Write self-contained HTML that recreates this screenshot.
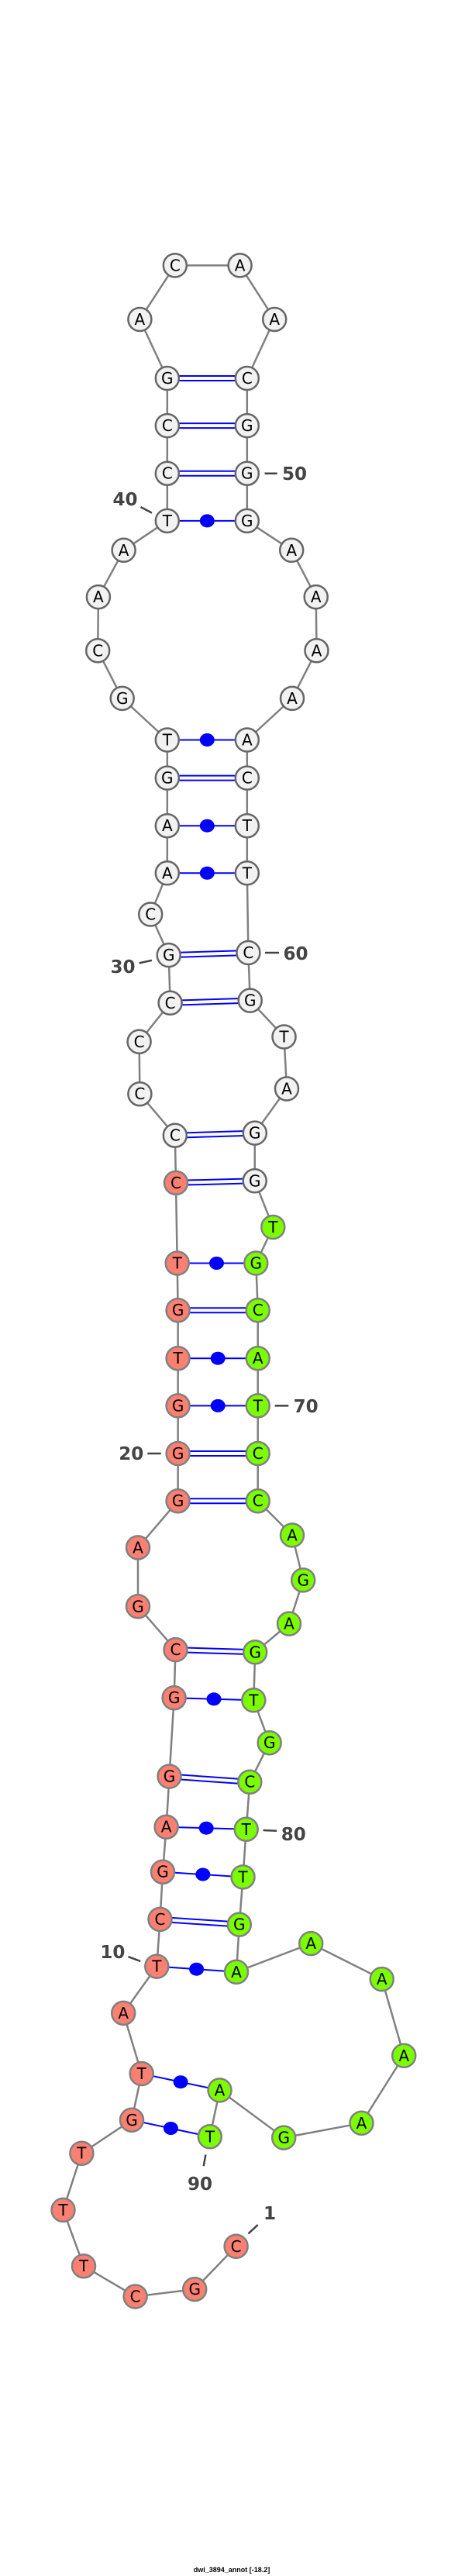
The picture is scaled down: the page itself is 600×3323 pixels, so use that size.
<!DOCTYPE html>
<html><head><meta charset="utf-8"><style>
html,body{margin:0;padding:0;background:#fff;}
svg{display:block;}
.n text{font-family:"DejaVu Sans","Liberation Sans",sans-serif;font-size:20px;text-anchor:middle;fill:#000;}
.lb{font-family:"DejaVu Sans","Liberation Sans",sans-serif;font-size:23px;font-weight:bold;fill:#444;text-anchor:middle;}
</style></head><body>
<svg width="600" height="3323" viewBox="0 0 600 3323" xmlns="http://www.w3.org/2000/svg">
<polyline fill="none" stroke="#808080" stroke-width="2.5" points="304.6,2897.8 251.2,2953.1 174.6,2962.5 108,2923.2 81.5,2850.9 105.4,2777.7 170,2734.8 182.7,2675 159.2,2596.9 202.3,2536.6 206.5,2475.9 210,2414.7 214.6,2356.7 218.5,2291.5 224.6,2190.2 226.5,2128.1 178,2072.3 178,1996.4 229.6,1936.2 229.6,1875 229.6,1813.4 229.6,1752.2 229.6,1690.2 228.7,1629.5 227,1525.9 225.8,1464.7 180.4,1411.2 179.6,1343.8 219.6,1293.8 217.7,1232.1 194.2,1179.5 215.8,1126.3 215.8,1065.2 215.8,1003.6 215.8,954.5 157.7,900.9 126.2,839.3 126.9,770.1 159.6,709.8 215.8,671.9 215.8,610.7 215.8,549.1 215.8,488 180.4,412 225.8,342.4 309.6,342.4 354.2,412 318.8,488 318.8,549.1 318.8,610.7 318.8,671.9 376.2,709.8 407.7,770.1 408.5,839.3 377,900.9 318.8,954.5 318.8,1003.6 318.8,1065.2 318.8,1126.3 320.4,1229 322.7,1290.6 366.5,1337.5 370,1404.5 328.8,1461.6 328.7,1523.3 352.3,1583 330.3,1629.5 332.7,1690.2 332.7,1752.2 332.7,1813.4 332.7,1875 332.7,1936.2 377,1980.4 391.2,2038.4 373,2094.6 329.2,2131.3 327.3,2193.3 347.7,2248.2 322.3,2298.7 317.7,2359.8 313.5,2421.4 308.8,2482.6 305,2543.8 401.2,2507.1 492.7,2553.1 521.2,2651.8 466.5,2738.8 366.2,2757.6 283.5,2696.4 270.8,2756.3"/>
<g stroke="#0000ff" stroke-width="2">
<!-- double pairs -->
<line x1="215.8" y1="485" x2="318.8" y2="485"/><line x1="215.8" y1="491" x2="318.8" y2="491"/>
<line x1="215.8" y1="546.1" x2="318.8" y2="546.1"/><line x1="215.8" y1="552.1" x2="318.8" y2="552.1"/>
<line x1="215.8" y1="607.7" x2="318.8" y2="607.7"/><line x1="215.8" y1="613.7" x2="318.8" y2="613.7"/>
<line x1="215.8" y1="1000.6" x2="318.8" y2="1000.6"/><line x1="215.8" y1="1006.6" x2="318.8" y2="1006.6"/>
<line x1="217.7" y1="1229.1" x2="320.4" y2="1226"/><line x1="217.7" y1="1235.1" x2="320.4" y2="1232"/>
<line x1="219.6" y1="1290.8" x2="322.7" y2="1287.6"/><line x1="219.6" y1="1296.8" x2="322.7" y2="1293.6"/>
<line x1="225.8" y1="1461.7" x2="328.8" y2="1458.6"/><line x1="225.8" y1="1467.7" x2="328.8" y2="1464.6"/>
<line x1="227" y1="1522.9" x2="328.7" y2="1520.3"/><line x1="227" y1="1528.9" x2="328.7" y2="1526.3"/>
<line x1="229.6" y1="1687.2" x2="332.7" y2="1687.2"/><line x1="229.6" y1="1693.2" x2="332.7" y2="1693.2"/>
<line x1="229.6" y1="1872" x2="332.7" y2="1872"/><line x1="229.6" y1="1878" x2="332.7" y2="1878"/>
<line x1="229.6" y1="1933.2" x2="332.7" y2="1933.2"/><line x1="229.6" y1="1939.2" x2="332.7" y2="1939.2"/>
<line x1="226.5" y1="2125.1" x2="329.2" y2="2128.3"/><line x1="226.5" y1="2131.1" x2="329.2" y2="2134.3"/>
<line x1="218.5" y1="2288.5" x2="322.3" y2="2295.7"/><line x1="218.5" y1="2294.5" x2="322.3" y2="2301.7"/>
<line x1="206.5" y1="2472.9" x2="308.8" y2="2479.6"/><line x1="206.5" y1="2478.9" x2="308.8" y2="2485.6"/>
<!-- dot pairs -->
<line x1="215.8" y1="671.9" x2="318.8" y2="671.9"/>
<line x1="215.8" y1="954.5" x2="318.8" y2="954.5"/>
<line x1="215.8" y1="1065.2" x2="318.8" y2="1065.2"/>
<line x1="215.8" y1="1126.3" x2="318.8" y2="1126.3"/>
<line x1="228.7" y1="1629.5" x2="330.3" y2="1629.5"/>
<line x1="229.6" y1="1752.2" x2="332.7" y2="1752.2"/>
<line x1="229.6" y1="1813.4" x2="332.7" y2="1813.4"/>
<line x1="224.6" y1="2190.2" x2="327.3" y2="2193.3"/>
<line x1="214.6" y1="2356.7" x2="317.7" y2="2359.8"/>
<line x1="210" y1="2414.7" x2="313.5" y2="2421.4"/>
<line x1="202.3" y1="2536.6" x2="305" y2="2543.8"/>
<line x1="182.7" y1="2675" x2="283.5" y2="2696.4"/>
<line x1="170" y1="2734.8" x2="270.8" y2="2756.3"/>
</g>
<g fill="#0000ff">
<ellipse cx="267.3" cy="671.9" rx="9.5" ry="8.5"/>
<ellipse cx="267.3" cy="954.5" rx="9.5" ry="8.5"/>
<ellipse cx="267.3" cy="1065.2" rx="9.5" ry="8.5"/>
<ellipse cx="267.3" cy="1126.3" rx="9.5" ry="8.5"/>
<ellipse cx="279.5" cy="1629.5" rx="9.5" ry="8.5"/>
<ellipse cx="281.2" cy="1752.2" rx="9.5" ry="8.5"/>
<ellipse cx="281.2" cy="1813.4" rx="9.5" ry="8.5"/>
<ellipse cx="276" cy="2191.8" rx="9.5" ry="8.5"/>
<ellipse cx="266.2" cy="2358.2" rx="9.5" ry="8.5"/>
<ellipse cx="261.8" cy="2418" rx="9.5" ry="8.5"/>
<ellipse cx="253.6" cy="2540.2" rx="9.5" ry="8.5"/>
<ellipse cx="233.1" cy="2685.7" rx="9.5" ry="8.5"/>
<ellipse cx="220.4" cy="2745.5" rx="9.5" ry="8.5"/>
</g>
<g class="n" stroke-width="2.5">
<g fill="#fa8072" stroke="#808080">
<circle cx="304.6" cy="2897.8" r="15"/><circle cx="251.2" cy="2953.1" r="15"/><circle cx="174.6" cy="2962.5" r="15"/><circle cx="108" cy="2923.2" r="15"/><circle cx="81.5" cy="2850.9" r="15"/><circle cx="105.4" cy="2777.7" r="15"/><circle cx="170" cy="2734.8" r="15"/><circle cx="182.7" cy="2675" r="15"/><circle cx="159.2" cy="2596.9" r="15"/><circle cx="202.3" cy="2536.6" r="15"/><circle cx="206.5" cy="2475.9" r="15"/><circle cx="210" cy="2414.7" r="15"/><circle cx="214.6" cy="2356.7" r="15"/><circle cx="218.5" cy="2291.5" r="15"/><circle cx="224.6" cy="2190.2" r="15"/><circle cx="226.5" cy="2128.1" r="15"/><circle cx="178" cy="2072.3" r="15"/><circle cx="178" cy="1996.4" r="15"/><circle cx="229.6" cy="1936.2" r="15"/><circle cx="229.6" cy="1875" r="15"/><circle cx="229.6" cy="1813.4" r="15"/><circle cx="229.6" cy="1752.2" r="15"/><circle cx="229.6" cy="1690.2" r="15"/><circle cx="228.7" cy="1629.5" r="15"/><circle cx="227" cy="1525.9" r="15"/>
</g>
<g fill="#f2f2f2" stroke="#666">
<circle cx="225.8" cy="1464.7" r="15"/><circle cx="180.4" cy="1411.2" r="15"/><circle cx="179.6" cy="1343.8" r="15"/><circle cx="219.6" cy="1293.8" r="15"/><circle cx="217.7" cy="1232.1" r="15"/><circle cx="194.2" cy="1179.5" r="15"/><circle cx="215.8" cy="1126.3" r="15"/><circle cx="215.8" cy="1065.2" r="15"/><circle cx="215.8" cy="1003.6" r="15"/><circle cx="215.8" cy="954.5" r="15"/><circle cx="157.7" cy="900.9" r="15"/><circle cx="126.2" cy="839.3" r="15"/><circle cx="126.9" cy="770.1" r="15"/><circle cx="159.6" cy="709.8" r="15"/><circle cx="215.8" cy="671.9" r="15"/><circle cx="215.8" cy="610.7" r="15"/><circle cx="215.8" cy="549.1" r="15"/><circle cx="215.8" cy="488" r="15"/><circle cx="180.4" cy="412" r="15"/><circle cx="225.8" cy="342.4" r="15"/><circle cx="309.6" cy="342.4" r="15"/><circle cx="354.2" cy="412" r="15"/><circle cx="318.8" cy="488" r="15"/><circle cx="318.8" cy="549.1" r="15"/><circle cx="318.8" cy="610.7" r="15"/><circle cx="318.8" cy="671.9" r="15"/><circle cx="376.2" cy="709.8" r="15"/><circle cx="407.7" cy="770.1" r="15"/><circle cx="408.5" cy="839.3" r="15"/><circle cx="377" cy="900.9" r="15"/><circle cx="318.8" cy="954.5" r="15"/><circle cx="318.8" cy="1003.6" r="15"/><circle cx="318.8" cy="1065.2" r="15"/><circle cx="318.8" cy="1126.3" r="15"/><circle cx="320.4" cy="1229" r="15"/><circle cx="322.7" cy="1290.6" r="15"/><circle cx="366.5" cy="1337.5" r="15"/><circle cx="370" cy="1404.5" r="15"/><circle cx="328.8" cy="1461.6" r="15"/><circle cx="328.7" cy="1523.3" r="15"/>
</g>
<g fill="#7cfc00" stroke="#808080">
<circle cx="352.3" cy="1583" r="15"/><circle cx="330.3" cy="1629.5" r="15"/><circle cx="332.7" cy="1690.2" r="15"/><circle cx="332.7" cy="1752.2" r="15"/><circle cx="332.7" cy="1813.4" r="15"/><circle cx="332.7" cy="1875" r="15"/><circle cx="332.7" cy="1936.2" r="15"/><circle cx="377" cy="1980.4" r="15"/><circle cx="391.2" cy="2038.4" r="15"/><circle cx="373" cy="2094.6" r="15"/><circle cx="329.2" cy="2131.3" r="15"/><circle cx="327.3" cy="2193.3" r="15"/><circle cx="347.7" cy="2248.2" r="15"/><circle cx="322.3" cy="2298.7" r="15"/><circle cx="317.7" cy="2359.8" r="15"/><circle cx="313.5" cy="2421.4" r="15"/><circle cx="308.8" cy="2482.6" r="15"/><circle cx="305" cy="2543.8" r="15"/><circle cx="401.2" cy="2507.1" r="15"/><circle cx="492.7" cy="2553.1" r="15"/><circle cx="521.2" cy="2651.8" r="15"/><circle cx="466.5" cy="2738.8" r="15"/><circle cx="366.2" cy="2757.6" r="15"/><circle cx="283.5" cy="2696.4" r="15"/><circle cx="270.8" cy="2756.3" r="15"/>
</g>
<g transform="translate(0,7)">
<text x="304.6" y="2897.8">C</text><text x="251.2" y="2953.1">G</text><text x="174.6" y="2962.5">C</text><text x="108" y="2923.2">T</text><text x="81.5" y="2850.9">T</text><text x="105.4" y="2777.7">T</text><text x="170" y="2734.8">G</text><text x="182.7" y="2675">T</text><text x="159.2" y="2596.9">A</text><text x="202.3" y="2536.6">T</text><text x="206.5" y="2475.9">C</text><text x="210" y="2414.7">G</text><text x="214.6" y="2356.7">A</text><text x="218.5" y="2291.5">G</text><text x="224.6" y="2190.2">G</text><text x="226.5" y="2128.1">C</text><text x="178" y="2072.3">G</text><text x="178" y="1996.4">A</text><text x="229.6" y="1936.2">G</text><text x="229.6" y="1875">G</text><text x="229.6" y="1813.4">G</text><text x="229.6" y="1752.2">T</text><text x="229.6" y="1690.2">G</text><text x="228.7" y="1629.5">T</text><text x="227" y="1525.9">C</text>
<text x="225.8" y="1464.7">C</text><text x="180.4" y="1411.2">C</text><text x="179.6" y="1343.8">C</text><text x="219.6" y="1293.8">C</text><text x="217.7" y="1232.1">G</text><text x="194.2" y="1179.5">C</text><text x="215.8" y="1126.3">A</text><text x="215.8" y="1065.2">A</text><text x="215.8" y="1003.6">G</text><text x="215.8" y="954.5">T</text><text x="157.7" y="900.9">G</text><text x="126.2" y="839.3">C</text><text x="126.9" y="770.1">A</text><text x="159.6" y="709.8">A</text><text x="215.8" y="671.9">T</text><text x="215.8" y="610.7">C</text><text x="215.8" y="549.1">C</text><text x="215.8" y="488">G</text><text x="180.4" y="412">A</text><text x="225.8" y="342.4">C</text><text x="309.6" y="342.4">A</text><text x="354.2" y="412">A</text><text x="318.8" y="488">C</text><text x="318.8" y="549.1">G</text><text x="318.8" y="610.7">G</text><text x="318.8" y="671.9">G</text><text x="376.2" y="709.8">A</text><text x="407.7" y="770.1">A</text><text x="408.5" y="839.3">A</text><text x="377" y="900.9">A</text><text x="318.8" y="954.5">A</text><text x="318.8" y="1003.6">C</text><text x="318.8" y="1065.2">T</text><text x="318.8" y="1126.3">T</text><text x="320.4" y="1229">C</text><text x="322.7" y="1290.6">G</text><text x="366.5" y="1337.5">T</text><text x="370" y="1404.5">A</text><text x="328.8" y="1461.6">G</text><text x="328.7" y="1523.3">G</text>
<text x="352.3" y="1583">T</text><text x="330.3" y="1629.5">G</text><text x="332.7" y="1690.2">C</text><text x="332.7" y="1752.2">A</text><text x="332.7" y="1813.4">T</text><text x="332.7" y="1875">C</text><text x="332.7" y="1936.2">C</text><text x="377" y="1980.4">A</text><text x="391.2" y="2038.4">G</text><text x="373" y="2094.6">A</text><text x="329.2" y="2131.3">G</text><text x="327.3" y="2193.3">T</text><text x="347.7" y="2248.2">G</text><text x="322.3" y="2298.7">C</text><text x="317.7" y="2359.8">T</text><text x="313.5" y="2421.4">T</text><text x="308.8" y="2482.6">G</text><text x="305" y="2543.8">A</text><text x="401.2" y="2507.1">A</text><text x="492.7" y="2553.1">A</text><text x="521.2" y="2651.8">A</text><text x="466.5" y="2738.8">A</text><text x="366.2" y="2757.6">G</text><text x="283.5" y="2696.4">A</text><text x="270.8" y="2756.3">T</text>
</g>
</g>
<g stroke="#444" stroke-width="2.5">
<line x1="341.5" y1="610.7" x2="357.7" y2="610.7"/>
<line x1="181.5" y1="654" x2="196" y2="661.6"/>
<line x1="179.6" y1="1242.4" x2="196" y2="1238.8"/>
<line x1="342" y1="1229" x2="360" y2="1229"/>
<line x1="354.6" y1="1813.4" x2="372.3" y2="1813.4"/>
<line x1="190.4" y1="1875" x2="207.7" y2="1875"/>
<line x1="339.6" y1="2361" x2="357" y2="2361.8"/>
<line x1="165.4" y1="2524.1" x2="181.2" y2="2529.9"/>
<line x1="265.4" y1="2779.5" x2="262.7" y2="2794.2"/>
<line x1="320.4" y1="2881.3" x2="332.7" y2="2870.1"/>
</g>
<g class="lb">
<text x="380" y="619">50</text>
<text x="161.5" y="652">40</text>
<text x="158.5" y="1255">30</text>
<text x="381.5" y="1238">60</text>
<text x="394.6" y="1822">70</text>
<text x="169.2" y="1883">20</text>
<text x="378.8" y="2374">80</text>
<text x="145.4" y="2526">10</text>
<text x="258" y="2825">90</text>
<text x="348" y="2863">1</text>
</g>
<text x="299" y="3318" font-family="'Liberation Sans',sans-serif" font-size="9" font-weight="bold" text-anchor="middle" fill="#000">dwi_3894_annot [-18.2]</text>
</svg>
</body></html>
